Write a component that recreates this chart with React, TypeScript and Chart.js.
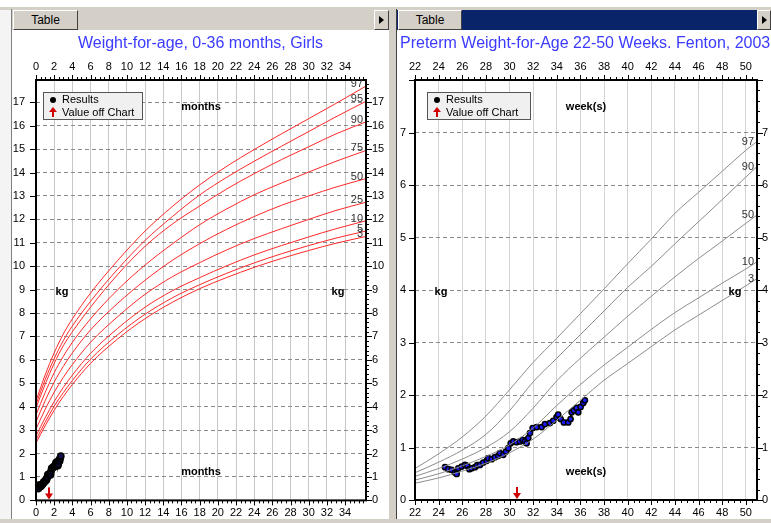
import React, { useEffect, useRef } from "react";
import { Chart, registerables } from "chart.js";
Chart.register(...registerables);

const FONT = "'Liberation Sans', Arial, sans-serif";

// ---------- Left panel: Weight-for-age 0-36 months, girls ----------
const cdcMonths = [0, 1, 2, 3, 4, 6, 9, 12, 15, 18, 21, 24, 27, 30, 33, 36.3];
const cdcP3 = [2.45, 3.18, 3.85, 4.43, 4.95, 5.85, 6.9, 7.76, 8.46, 9.04, 9.52, 9.95, 10.33, 10.67, 10.98, 11.27];
const cdcP5 = [2.58, 3.33, 4.02, 4.6, 5.12, 6.03, 7.08, 7.95, 8.65, 9.21, 9.7, 10.14, 10.53, 10.88, 11.2, 11.5];
const cdcP10 = [2.75, 3.52, 4.22, 4.82, 5.35, 6.28, 7.35, 8.25, 8.95, 9.51, 10.02, 10.48, 10.88, 11.25, 11.6, 11.94];
const cdcP25 = [3.05, 3.88, 4.62, 5.25, 5.8, 6.75, 7.85, 8.8, 9.55, 10.15, 10.7, 11.18, 11.6, 12.0, 12.38, 12.73];
const cdcP50 = [3.35, 4.25, 5.05, 5.72, 6.3, 7.28, 8.42, 9.4, 10.25, 10.96, 11.58, 12.12, 12.6, 13.0, 13.38, 13.74];
const cdcP75 = [3.65, 4.6, 5.45, 6.15, 6.75, 7.75, 9.0, 10.05, 10.95, 11.77, 12.45, 13.05, 13.55, 14.02, 14.48, 14.94];
const cdcP90 = [3.95, 4.95, 5.85, 6.6, 7.2, 8.25, 9.65, 10.85, 11.8, 12.57, 13.3, 13.95, 14.55, 15.1, 15.65, 16.16];
const cdcP95 = [4.1, 5.15, 6.05, 6.82, 7.45, 8.5, 9.88, 11.1, 12.12, 13.04, 13.8, 14.48, 15.12, 15.75, 16.38, 17.04];
const cdcP97 = [4.25, 5.35, 6.3, 7.1, 7.75, 8.85, 10.25, 11.5, 12.55, 13.47, 14.27, 14.98, 15.65, 16.3, 16.95, 17.69];
const cdcLabels = ["3", "5", "10", "25", "50", "75", "90", "95", "97"];

// ---------- Right panel: Fenton 2003 preterm ----------
const fentonWeeks = [22, 24, 26, 28, 30, 32, 34, 36, 38, 40, 42, 44, 46, 48, 50, 50.9];
const fentonP3 = [0.32, 0.42, 0.55, 0.7, 0.9, 1.16, 1.52, 1.9, 2.28, 2.6, 2.92, 3.24, 3.52, 3.8, 4.08, 4.21];
const fentonP10 = [0.38, 0.5, 0.65, 0.83, 1.05, 1.37, 1.8, 2.2, 2.57, 2.91, 3.25, 3.57, 3.85, 4.13, 4.4, 4.53];
const fentonP50 = [0.45, 0.6, 0.78, 1.0, 1.3, 1.75, 2.27, 2.7, 3.1, 3.5, 3.88, 4.25, 4.6, 4.93, 5.27, 5.42];
const fentonP90 = [0.52, 0.72, 0.95, 1.25, 1.7, 2.25, 2.7, 3.15, 3.6, 4.05, 4.45, 4.88, 5.3, 5.72, 6.15, 6.34];
const fentonP97 = [0.6, 0.88, 1.2, 1.6, 2.1, 2.62, 3.08, 3.55, 4.02, 4.5, 4.97, 5.46, 5.86, 6.26, 6.66, 6.82];
const fentonLabels = ["3", "10", "50", "90", "97"];

// ---------- Results (gestational age in weeks, weight in kg) ----------
const resultWeeks = [24.54, 24.82, 25.1, 25.38, 25.53, 25.66, 25.95, 26.23, 26.43, 26.6, 26.8, 27.08, 27.27, 27.5, 27.78, 28.07, 28.2, 28.49, 28.77, 29.05, 29.19, 29.47, 29.7, 29.9, 30.1, 30.32, 30.6, 30.88, 31.1, 31.3, 31.45, 31.59, 31.73, 31.96, 32.3, 32.72, 33.0, 33.42, 33.7, 33.98, 34.12, 34.33, 34.6, 34.97, 35.17, 35.26, 35.45, 35.68, 35.82, 36.02, 36.24, 36.38];
const resultKg = [0.625, 0.587, 0.574, 0.523, 0.497, 0.605, 0.637, 0.669, 0.65, 0.587, 0.605, 0.625, 0.663, 0.669, 0.714, 0.746, 0.797, 0.778, 0.816, 0.841, 0.893, 0.86, 0.924, 0.988, 1.08, 1.115, 1.1, 1.115, 1.147, 1.115, 1.08, 1.18, 1.275, 1.37, 1.39, 1.39, 1.447, 1.466, 1.51, 1.58, 1.625, 1.543, 1.478, 1.478, 1.543, 1.67, 1.707, 1.753, 1.67, 1.772, 1.849, 1.9];
const birthWeek = 24.5;
const offChartWeeks = [30.6];
const toMonths = (w: number) => ((w - birthWeek) * 7) / 30.4375;

type Spec = {
  width: number;
  height: number;
  padLeft: number;
  area: { left: number; right: number; top: number; bottom: number };
  xMin: number;
  xMax: number;
  xFirstLabel: number;
  xLastLabel: number;
  yMax: number;
  yLastLabel: number;
  title: string;
  titleAlign: "center" | "start";
  vGrid: string;
  yLeftPad: number;
  yRightPad: number;
  decor: any;
  datasets: any[];
};

const TITLE_H = 16 * 1.2 + 7;

const decorPlugin = {
  id: "decor",
  afterDraw(chart: any, _args: any, o: any) {
    const { ctx, chartArea: a, scales } = chart;
    const xs = scales.x;
    const ys = scales.y;
    ctx.save();
    // minor / major tick marks
    ctx.strokeStyle = "#000";
    ctx.lineWidth = 1;
    ctx.beginPath();
    const k0 = Math.ceil(xs.min / o.xMinor - 1e-9);
    const k1 = Math.floor(xs.max / o.xMinor + 1e-9);
    for (let k = k0; k <= k1; k++) {
      const v = k * o.xMinor;
      const major = Math.abs(v / 2 - Math.round(v / 2)) < 1e-6 && v <= o.xLastLabel + 1e-6;
      const len = major ? 5 : 3;
      const px = Math.round(xs.getPixelForValue(v)) + 0.5;
      ctx.moveTo(px, a.bottom);
      ctx.lineTo(px, a.bottom + len);
      ctx.moveTo(px, a.top);
      ctx.lineTo(px, a.top - len);
    }
    const j1 = Math.floor(ys.max / o.yMinor + 1e-9);
    for (let j = 0; j <= j1; j++) {
      const v = j * o.yMinor;
      const major = Math.abs(v - Math.round(v)) < 1e-6;
      const py = Math.round(ys.getPixelForValue(v)) + 0.5;
      if (major) {
        ctx.moveTo(a.left, py);
        ctx.lineTo(a.left - 6, py);
      }
      ctx.moveTo(a.right, py);
      ctx.lineTo(a.right + (major ? 6 : 3), py);
    }
    ctx.stroke();
    // frame
    ctx.lineWidth = 2;
    ctx.strokeRect(a.left, a.top, a.right - a.left, a.bottom - a.top);

    // percentile labels
    ctx.font = `11px ${FONT}`;
    ctx.fillStyle = "#333";
    ctx.textAlign = "right";
    ctx.textBaseline = "alphabetic";
    chart.data.datasets.forEach((ds: any, i: number) => {
      if (!ds.pctLabel) return;
      const meta = chart.getDatasetMeta(i);
      const pt = meta.data[meta.data.length - 1];
      ctx.fillText(ds.pctLabel, a.right - 3, pt.y + o.labelDy);
    });

    // inner axis titles
    ctx.font = `bold 11px ${FONT}`;
    ctx.fillStyle = "#000";
    ctx.textAlign = "center";
    ctx.textBaseline = "middle";
    const cx = (a.left + a.right) / 2;
    const cy = (a.top + a.bottom) / 2;
    ctx.fillText(o.xTitle, cx, a.top + 27);
    ctx.fillText(o.xTitle, cx, a.bottom - 28);
    ctx.fillText("kg", a.left + 26, cy + 2);
    ctx.fillText("kg", a.right - o.kgRight, cy + 2);

    // off-chart arrows
    ctx.fillStyle = "#d00000";
    o.offChart.forEach((v: number) => {
      const x = Math.round(xs.getPixelForValue(v));
      const b = a.bottom - 1;
      ctx.fillRect(x - 1, b - 12, 2, 7);
      ctx.beginPath();
      ctx.moveTo(x - 4, b - 6);
      ctx.lineTo(x + 4, b - 6);
      ctx.lineTo(x, b);
      ctx.closePath();
      ctx.fill();
    });

    // legend box
    const lx = a.left + o.legendDx;
    const ly = a.top + 12;
    const lw = o.legendW;
    ctx.fillStyle = "#f0f0f0";
    ctx.fillRect(lx, ly, lw, 28);
    ctx.strokeStyle = "#555";
    ctx.lineWidth = 1;
    ctx.strokeRect(lx + 0.5, ly + 0.5, lw - 1, 27);
    ctx.fillStyle = "#000";
    ctx.beginPath();
    ctx.arc(lx + 10, ly + 8, 3, 0, Math.PI * 2);
    ctx.fill();
    ctx.fillStyle = "#d00000";
    ctx.beginPath();
    ctx.moveTo(lx + 10, ly + 15);
    ctx.lineTo(lx + 14, ly + 20);
    ctx.lineTo(lx + 6, ly + 20);
    ctx.closePath();
    ctx.fill();
    ctx.fillRect(lx + 9, ly + 20, 2, 5);
    ctx.fillStyle = "#000";
    ctx.font = `11px ${FONT}`;
    ctx.textAlign = "left";
    ctx.textBaseline = "middle";
    ctx.fillText("Results", lx + 19, ly + 8);
    ctx.fillText("Value off Chart", lx + 19, ly + 21);
    ctx.restore();
  },
};

function lineDs(xs: number[], ys: number[], color: string, pct: string) {
  return {
    data: xs.map((x, i) => ({ x, y: ys[i] })),
    showLine: true,
    borderColor: color,
    borderWidth: 1,
    pointRadius: 0,
    cubicInterpolationMode: "monotone",
    pctLabel: pct,
  };
}

function resultsDs(xs: number[], fill: string, r: number) {
  return {
    data: xs.map((x, i) => ({ x, y: resultKg[i] })),
    showLine: true,
    borderColor: "#000",
    borderWidth: 2,
    pointRadius: r,
    pointBackgroundColor: fill,
    pointBorderColor: "#000",
    pointBorderWidth: 1.5,
  };
}

function buildConfig(p: Spec): any {
  const mkTicks = (first: number, last: number, step: number) => (s: any) => {
    const t: any[] = [];
    for (let v = first; v <= last + 1e-9; v += step) t.push({ value: v });
    s.ticks = t;
  };
  const tickFont = { size: 11, family: FONT };
  return {
    type: "scatter",
    data: { datasets: p.datasets },
    options: {
      responsive: false,
      animation: false,
      layout: { padding: { left: p.padLeft, right: 0, top: 0, bottom: 0 } },
      plugins: {
        legend: { display: false },
        tooltip: { enabled: false },
        title: {
          display: true,
          text: p.title,
          align: p.titleAlign,
          color: "#3b3bff",
          font: { size: 16, family: FONT, weight: "normal", lineHeight: 1.2 },
          padding: { top: 4, bottom: 3 },
        },
        decor: p.decor,
      },
      scales: {
        x: {
          type: "linear",
          position: "bottom",
          min: p.xMin,
          max: p.xMax,
          ticks: { stepSize: 2, padding: 6, font: tickFont, color: "#000", maxRotation: 0, autoSkip: false },
          grid: { color: p.vGrid, drawTicks: false, lineWidth: 1 },
          border: { display: false },
          afterBuildTicks: mkTicks(p.xFirstLabel, p.xLastLabel, 2),
          afterFit: (s: any) => {
            s.height = p.height - p.area.bottom;
          },
        },
        xTop: {
          type: "linear",
          position: "top",
          min: p.xMin,
          max: p.xMax,
          ticks: { stepSize: 2, padding: 6, font: tickFont, color: "#000", maxRotation: 0, autoSkip: false },
          grid: { display: false, drawTicks: false },
          border: { display: false },
          afterBuildTicks: mkTicks(p.xFirstLabel, p.xLastLabel, 2),
          afterFit: (s: any) => {
            s.height = p.area.top - TITLE_H;
          },
        },
        y: {
          type: "linear",
          position: "left",
          min: 0,
          max: p.yMax,
          ticks: { stepSize: 1, padding: p.yLeftPad, font: tickFont, color: "#000" },
          grid: { color: "#8a8a8a", drawTicks: false, lineWidth: 1 },
          border: { display: false, dash: [4, 3] },
          afterBuildTicks: mkTicks(0, p.yLastLabel, 1),
          afterFit: (s: any) => {
            s.width = p.area.left - p.padLeft;
          },
        },
        yRight: {
          type: "linear",
          position: "right",
          min: 0,
          max: p.yMax,
          ticks: { stepSize: 1, padding: p.yRightPad, font: tickFont, color: "#000" },
          grid: { display: false, drawTicks: false },
          border: { display: false },
          afterBuildTicks: mkTicks(0, p.yLastLabel, 1),
          afterFit: (s: any) => {
            s.width = p.width - p.area.right;
          },
        },
      },
    },
    plugins: [decorPlugin],
  };
}

const leftSpec: Spec = {
  width: 377,
  height: 488,
  padLeft: 0,
  area: { left: 24, right: 354, top: 50, bottom: 471 },
  xMin: 0,
  xMax: 36.3,
  xFirstLabel: 0,
  xLastLabel: 34,
  yMax: 17.95,
  yLastLabel: 17,
  title: "Weight-for-age, 0-36 months, Girls",
  titleAlign: "center",
  vGrid: "#c8c8c8",
  yLeftPad: 11,
  yRightPad: 6,
  decor: {
    xMinor: 0.5,
    xLastLabel: 34,
    yMinor: 0.2,
    labelDy: 1,
    xTitle: "months",
    kgRight: 28,
    offChart: offChartWeeks.map(toMonths),
    legendDx: 7,
    legendW: 100,
  },
  datasets: [
    ...[cdcP3, cdcP5, cdcP10, cdcP25, cdcP50, cdcP75, cdcP90, cdcP95, cdcP97].map((arr, i) =>
      lineDs(cdcMonths, arr, "#ff2828", cdcLabels[i])
    ),
    resultsDs(resultWeeks.map(toMonths), "#101050", 3),
  ],
};

const rightSpec: Spec = {
  width: 374,
  height: 488,
  padLeft: 3,
  area: { left: 18, right: 360, top: 50, bottom: 470 },
  xMin: 22,
  xMax: 50.95,
  xFirstLabel: 22,
  xLastLabel: 50,
  yMax: 8,
  yLastLabel: 7,
  title: "Preterm Weight-for-Age 22-50 Weeks. Fenton, 2003",
  titleAlign: "start",
  vGrid: "#d4d4d4",
  yLeftPad: 9,
  yRightPad: 5,
  decor: {
    xMinor: 0.5,
    xLastLabel: 50,
    yMinor: 0.2,
    labelDy: 3,
    xTitle: "week(s)",
    kgRight: 22,
    offChart: offChartWeeks,
    legendDx: 12,
    legendW: 104,
  },
  datasets: [
    ...[fentonP3, fentonP10, fentonP50, fentonP90, fentonP97].map((arr, i) =>
      lineDs(fentonWeeks, arr, "#8c8c8c", fentonLabels[i])
    ),
    resultsDs(resultWeeks, "#1a1aff", 2.6),
  ],
};

function Btn({ left, width, label }: { left: number; width: number; label?: string }) {
  return (
    <div
      style={{
        position: "absolute",
        left,
        top: 10,
        width,
        height: 20,
        boxSizing: "border-box",
        background: "#d4d0c8",
        borderTop: "1px solid #fff",
        borderLeft: "1px solid #fff",
        borderRight: "1px solid #404040",
        borderBottom: "1px solid #404040",
        fontSize: 12,
        lineHeight: "18px",
        textAlign: "center",
        color: "#000",
        fontFamily: FONT,
      }}
    >
      {label ? (
        label
      ) : (
        <div
          style={{
            position: "absolute",
            left: 4,
            top: 5,
            width: 0,
            height: 0,
            borderLeft: "5px solid #000",
            borderTop: "4px solid transparent",
            borderBottom: "4px solid transparent",
          }}
        />
      )}
    </div>
  );
}

export default function App() {
  const leftRef = useRef<HTMLCanvasElement>(null);
  const rightRef = useRef<HTMLCanvasElement>(null);
  useEffect(() => {
    const c1 = new Chart(leftRef.current as HTMLCanvasElement, buildConfig(leftSpec));
    const c2 = new Chart(rightRef.current as HTMLCanvasElement, buildConfig(rightSpec));
    return () => {
      c1.destroy();
      c2.destroy();
    };
  }, []);
  const abs = (l: number, t: number, w: number, h: number, bg: string): React.CSSProperties => ({
    position: "absolute",
    left: l,
    top: t,
    width: w,
    height: h,
    background: bg,
  });
  return (
    <div style={{ position: "absolute", left: 0, top: 0, width: 771, height: 523, background: "#fff", overflow: "hidden" }}>
      <div style={abs(0, 7, 771, 3, "#d4d0c8")} />
      <div style={abs(0, 10, 11, 513, "#f4f4f4")} />
      <div style={abs(11, 9, 1, 514, "#808080")} />
      <div style={abs(12, 10, 377, 20, "#d4d0c8")} />
      <Btn left={13} width={65} label="Table" />
      <Btn left={374} width={15} />
      <div style={abs(389, 7, 7, 516, "#d4d0c8")} />
      <div style={abs(396, 9, 1, 514, "#404040")} />
      <div style={abs(397, 10, 374, 20, "#0a246a")} />
      <Btn left={398} width={64} label="Table" />
      <Btn left={757} width={14} />
      <canvas ref={leftRef} width={377} height={488} style={{ position: "absolute", left: 12, top: 30 }} />
      <canvas ref={rightRef} width={374} height={488} style={{ position: "absolute", left: 397, top: 30 }} />
      <div style={abs(0, 519, 771, 4, "#d4d0c8")} />
    </div>
  );
}
